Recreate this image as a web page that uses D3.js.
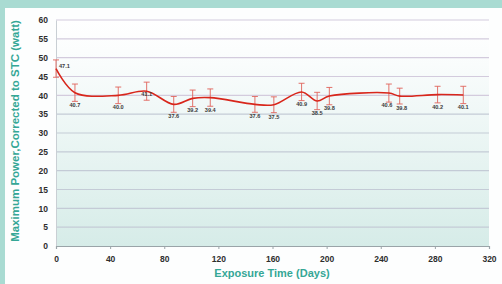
<!DOCTYPE html>
<html>
<head>
<meta charset="utf-8">
<script src="https://cdn.jsdelivr.net/npm/d3@7"></script>
<style>
  body { margin: 0; background: #fff; }
  svg { display: block; font-family: "Liberation Sans", Arial, sans-serif; }
</style>
</head>
<body>
<svg id="chart" width="502" height="284"></svg>
<script>
// exposure days, measured power and error half-width
const days   = [0, 14, 46, 67, 87, 101, 114, 147, 161, 181.5, 193, 202, 246, 254, 282, 301];
const power  = [47.1, 40.7, 40.0, 41.1, 37.6, 39.2, 39.4, 37.6, 37.5, 40.9, 38.5, 39.8, 40.6, 39.8, 40.2, 40.1];
const errs   = [2.3, 2.3, 2.2, 2.4, 2.1, 2.2, 2.3, 2.1, 2.1, 2.3, 2.3, 2.3, 2.4, 2.1, 2.2, 2.3];
const xTicks = [0, 40, 80, 120, 160, 200, 240, 280, 320];
const yTicks = [0, 5, 10, 15, 20, 25, 30, 35, 40, 45, 50, 55, 60];

const svg = d3.select('#chart');
const W = 502, H = 284;
const m = { left: 56, right: 13, top: 20, bottom: 38 };

// teal frame round a white panel
svg.append('rect').attr('width', W).attr('height', H).attr('fill', '#a9dbd2');
svg.append('rect').attr('x', 5).attr('y', 8).attr('width', W - 5).attr('height', H - 8).attr('fill', '#fdfefe');

const x = d3.scaleLinear().domain([0, 320]).range([m.left, W - m.right]);
const y = d3.scaleLinear().domain([0, 60]).range([H - m.bottom, m.top]);

const grad = svg.append('defs').append('linearGradient')
    .attr('id', 'bg').attr('x1', 0).attr('y1', 0).attr('x2', 0).attr('y2', 1);
grad.append('stop').attr('offset', '0%').attr('stop-color', '#ffffff');
grad.append('stop').attr('offset', '20%').attr('stop-color', '#f9fcfc');
grad.append('stop').attr('offset', '100%').attr('stop-color', '#d6ece8');

svg.append('rect')
    .attr('x', x(0)).attr('y', y(60))
    .attr('width', x(320) - x(0)).attr('height', y(0) - y(60))
    .attr('fill', 'url(#bg)');

// gridlines
svg.append('g').selectAll('line')
    .data(yTicks.filter(d => d > 0))
    .join('line')
    .attr('x1', x(0)).attr('x2', x(320))
    .attr('y1', d => y(d)).attr('y2', d => y(d))
    .attr('stroke', d => d >= 40 ? '#d3cbdd' : '#c4cbd6')
    .attr('stroke-width', 1.2);

// axes
const yAxis = svg.append('g')
    .attr('transform', `translate(${x(0)},0)`)
    .call(d3.axisLeft(y).tickValues(yTicks).tickSize(0).tickPadding(8));
yAxis.select('.domain').attr('stroke', '#c9cfd4');

const xAxis = svg.append('g')
    .attr('transform', `translate(0,${y(0)})`)
    .call(d3.axisBottom(x).tickValues(xTicks).tickSize(3).tickPadding(7));
xAxis.select('.domain').attr('stroke', '#9aa4a8').attr('stroke-width', 1.2);
xAxis.selectAll('.tick line').attr('stroke', '#9aa4a8');

svg.selectAll('.tick text')
    .attr('fill', '#2e2e2e')
    .attr('font-size', 8.5)
    .attr('font-weight', 'bold');

// axis titles
svg.append('text')
    .attr('x', 272).attr('y', 277)
    .attr('text-anchor', 'middle')
    .attr('fill', '#35a796').attr('font-size', 11).attr('font-weight', 'bold')
    .text('Exposure Time (Days)');

svg.append('text')
    .attr('transform', 'translate(19,131) rotate(-90)')
    .attr('text-anchor', 'middle')
    .attr('fill', '#35a796').attr('font-size', 11.5).attr('font-weight', 'bold')
    .text('Maximum Power,Corrected to STC (watt)');

const pts = days.map((d, i) => ({ d, v: power[i], e: errs[i] }));

// error bars
const eb = svg.append('g').attr('stroke', '#e0625a').attr('stroke-width', 0.9);
pts.forEach(p => {
    eb.append('line').attr('x1', x(p.d)).attr('x2', x(p.d))
        .attr('y1', y(p.v - p.e)).attr('y2', y(p.v + p.e));
    [p.v - p.e, p.v + p.e].forEach(v => {
        eb.append('line').attr('x1', x(p.d) - 3).attr('x2', x(p.d) + 3)
            .attr('y1', y(v)).attr('y2', y(v));
    });
});

// smooth line
svg.append('path')
    .datum(pts)
    .attr('fill', 'none')
    .attr('stroke', '#d8261b')
    .attr('stroke-width', 1.6)
    .attr('d', d3.line().x(p => x(p.d)).y(p => y(p.v)).curve(d3.curveCatmullRom.alpha(0.5)));

// value labels, mostly under the point
svg.append('g').selectAll('text')
    .data(pts)
    .join('text')
    .attr('x', (p, i) => i == 0 ? x(p.d) + 3 : (i == 12 ? x(p.d) - 2 : (i == 13 ? x(p.d) + 2 : x(p.d))))
    .attr('y', (p, i) => i == 0 ? y(p.v) - 1 : (i == 3 ? y(p.v) + 5 : y(p.v) + 14))
    .attr('text-anchor', (p, i) => i == 0 ? 'start' : 'middle')
    .attr('fill', '#3a3a3a')
    .attr('font-size', 5.6)
    .attr('font-weight', 'bold')
    .text(p => p.v.toFixed(1));
</script>
</body>
</html>
